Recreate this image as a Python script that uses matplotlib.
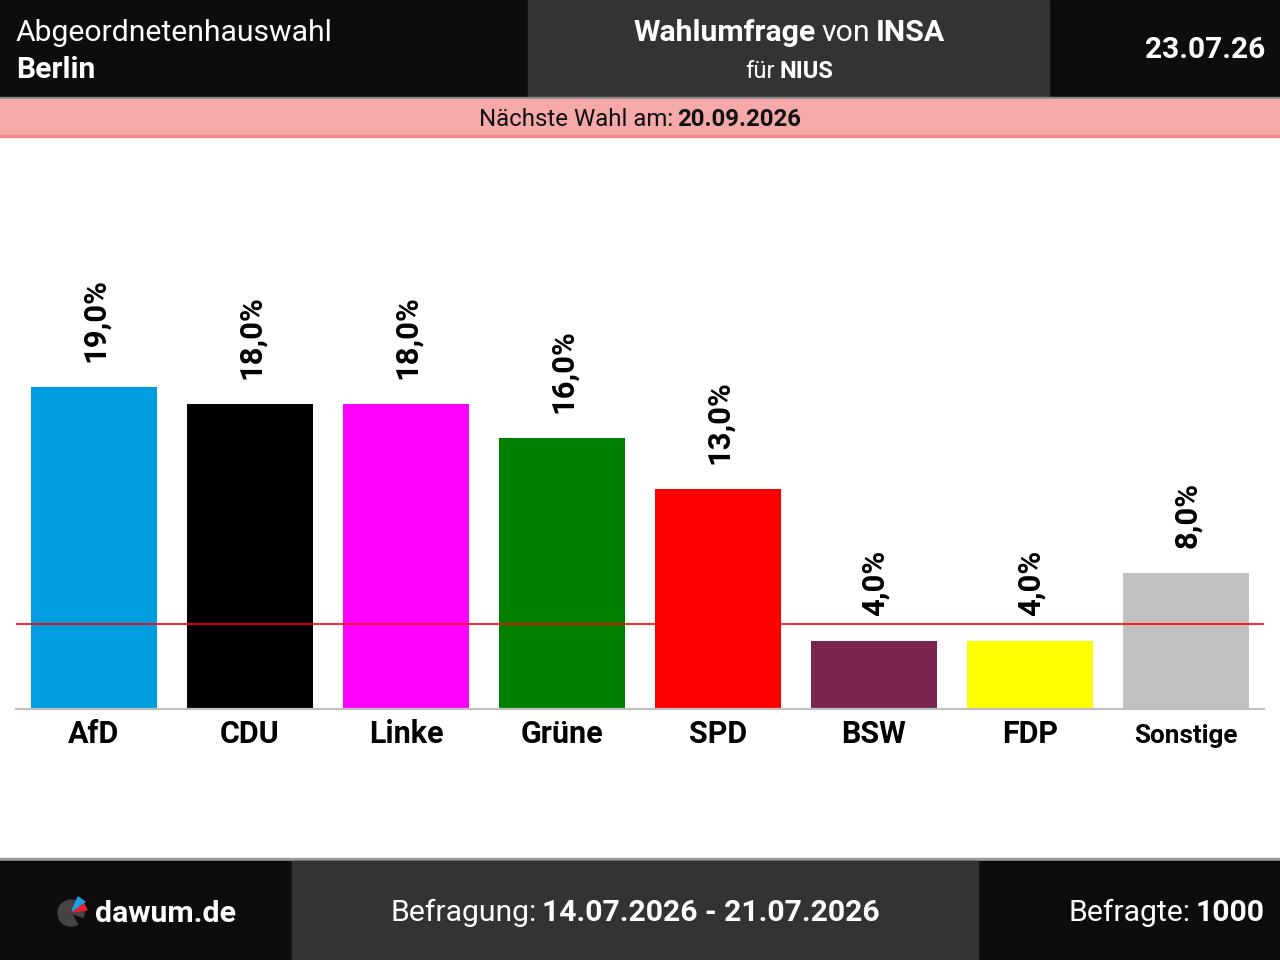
import matplotlib
matplotlib.use("Agg")
import matplotlib.pyplot as plt
from matplotlib.patches import Rectangle, Wedge, Polygon

plt.rcParams['font.family'] = ['Roboto', 'DejaVu Sans']

parties = ['AfD', 'CDU', 'Linke', 'Grüne', 'SPD', 'BSW', 'FDP', 'Sonstige']
values = [19.0, 18.0, 18.0, 16.0, 13.0, 4.0, 4.0, 8.0]
colors = ['#009ee0', '#000000', '#ff00ff', '#008000', '#ff0000', '#7b2450', '#ffff00', '#c0c0c0']
threshold = 5.0

election = 'Abgeordnetenhauswahl'
region = 'Berlin'
institute = 'INSA'
client = 'NIUS'
pub_date = '23.07.26'
next_election = '20.09.2026'
survey_period = '14.07.2026 - 21.07.2026'
respondents = '1000'

fig = plt.figure(figsize=(12.8, 9.6), dpi=100)
fig.patch.set_facecolor('white')

# background layer in pixel coordinates (y from top)
bg = fig.add_axes([0, 0, 1, 1])
bg.set_xlim(0, 1280)
bg.set_ylim(960, 0)
bg.axis('off')

bg.add_patch(Rectangle((0, 0), 1280, 98, color='#0d0d0d'))
bg.add_patch(Rectangle((528, 0), 521, 98, color='#333333'))
bg.add_patch(Rectangle((0, 97), 1280, 2, color='#888888'))
bg.add_patch(Rectangle((0, 99), 1280, 37, color='#f5a9a9'))
bg.add_patch(Rectangle((0, 135), 1280, 2, color='#f08a8a'))

bg.add_patch(Rectangle((0, 858), 1280, 3, color='#999999'))
bg.add_patch(Rectangle((0, 861), 1280, 99, color='#0d0d0d'))
bg.add_patch(Rectangle((292, 861), 686, 99, color='#333333'))

renderer = fig.canvas.get_renderer()


def rich(x, y, parts, size, color, ha='left'):
    widths = []
    for s, w in parts:
        t = bg.text(0, 0, s, fontsize=size, fontweight=w)
        widths.append(t.get_window_extent(renderer).width)
        t.remove()
    gap = size * 0.26
    total = sum(widths) + gap * (len(parts) - 1)
    if ha == 'center':
        x0 = x - total / 2
    elif ha == 'right':
        x0 = x - total
    else:
        x0 = x
    for (s, w), wd in zip(parts, widths):
        bg.text(x0, y, s, fontsize=size, fontweight=w, color=color,
                ha='left', va='center')
        x0 += wd + gap


bg.text(16, 33, election, fontsize=21.7, color='white', ha='left', va='center')
bg.text(16, 70, region, fontsize=21.7, fontweight='bold', color='white', ha='left', va='center')
rich(789, 33, [('Wahlumfrage', 'bold'), ('von', 'normal'), (institute, 'bold')], 21.8, 'white', 'center')
rich(789, 71, [('für', 'normal'), (client, 'bold')], 17, 'white', 'center')
bg.text(1265, 50, pub_date, fontsize=21.5, fontweight='bold', color='white', ha='right', va='center')
rich(640, 120, [('Nächste Wahl am:', 'normal'), (next_election, 'bold')], 17.3, '#111111', 'center')

rich(635, 913, [('Befragung:', 'normal'), (survey_period, 'bold')], 21.7, 'white', 'center')
rich(1265, 913, [('Befragte:', 'normal'), (respondents, 'bold')], 21.7, 'white', 'right')
bg.text(95, 914, 'dawum.de', fontsize=21.8, fontweight='bold', color='white', ha='left', va='center')

# logo
bg.add_patch(Wedge((71, 913), 13, 60, 20, color='#444444'))
bg.add_patch(Polygon([(72, 911), (78, 897), (85, 902)], color='#1ea0e8'))
bg.add_patch(Polygon([(73, 912), (84, 904), (87, 910)], color='#e8202a'))

# chart
ax = fig.add_axes([16 / 1280, (960 - 709) / 960, 1248 / 1280, (709 - 140) / 960])
ax.patch.set_alpha(0)
xs = list(range(len(parties)))
ax.bar(xs, values, width=0.81, color=colors, zorder=2)
ax.axhline(threshold, color='#ff0000', lw=1.2, zorder=3)
ax.set_xlim(-0.5, len(parties) - 0.5)
ax.set_ylim(0, 33.57)
for sp in ['top', 'right', 'left']:
    ax.spines[sp].set_visible(False)
ax.spines['bottom'].set_color('#c0c0c0')
ax.spines['bottom'].set_linewidth(1.6)
ax.set_yticks([])
ax.set_xticks(xs, parties)
ax.tick_params(axis='x', length=0, pad=7, labelsize=22)
for lab in ax.get_xticklabels():
    lab.set_fontweight('bold')
ax.get_xticklabels()[-1].set_fontsize(18.8)
ax.xaxis.get_major_ticks()[-1].set_pad(11)

for x, v in zip(xs, values):
    ax.annotate(f'{v:.1f}%'.replace('.', ','), (x, v), xytext=(-1.5, 18),
                textcoords='offset points', rotation=90, rotation_mode='anchor',
                ha='left', va='center_baseline', fontsize=22.3, fontweight='bold')

fig.savefig('out.png', dpi=100)
